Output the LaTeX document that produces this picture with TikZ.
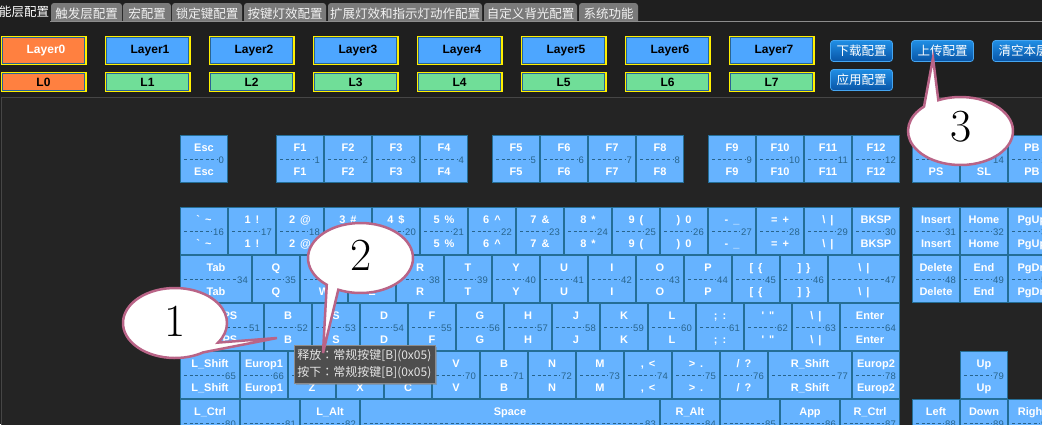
\documentclass[tikz,border=0pt]{standalone}
\usepackage{fontspec}
\newfontfamily\keyfont{Liberation Sans}
\newfontfamily\cjk{Noto Sans CJK SC}
\newfontfamily\cjktc{Noto Sans CJK TC}
\usetikzlibrary{calc,shadows}
\definecolor{bgtop}{RGB}{31,31,31}
\definecolor{bgpanel}{RGB}{36,36,36}
\definecolor{panelline}{RGB}{70,70,70}
\definecolor{keyfill}{RGB}{102,179,255}
\definecolor{keyline}{RGB}{36,110,150}
\definecolor{keynumc}{RGB}{40,100,140}
\definecolor{tabgray}{RGB}{122,122,122}
\definecolor{tabline}{RGB}{140,140,140}
\definecolor{layerblue}{RGB}{77,166,255}
\definecolor{layerorange}{RGB}{255,128,64}
\definecolor{layergreen}{RGB}{112,222,152}
\definecolor{layeryellow}{RGB}{255,240,0}
\definecolor{layerinner}{RGB}{40,100,150}
\definecolor{calloutline}{RGB}{185,100,135}
\definecolor{btntop}{RGB}{32,142,228}
\definecolor{btnbot}{RGB}{8,84,165}
\definecolor{btnline}{RGB}{70,165,240}
\definecolor{tipfill}{RGB}{78,78,78}
\definecolor{tipline}{RGB}{140,140,140}
\newcommand\kgap{\hspace{5pt}}
\newcommand\fwcolon{{\cjktc ：}}
\tikzset{
  keybox/.style={draw=keyline, fill=keyfill, line width=1.2pt, minimum height=46.8pt, inner sep=0pt, outer sep=0pt},
  keylab/.style={text=white, font=\keyfont\bfseries\fontsize{11}{11}\selectfont, inner sep=0pt},
  keynumst/.style={text=keynumc, font=\keyfont\fontsize{9.5}{9.5}\selectfont, inner sep=0pt},
  keydash/.style={draw=keynumc, line width=0.8pt, dash pattern=on 3pt off 2.4pt},
  tabbox/.style={fill=tabgray, rounded corners=3pt, text=white!95!black, font=\cjk\fontsize{12.5}{12.5}\selectfont, inner sep=0pt},
  layerbtn/.style={draw=layeryellow, line width=1.4pt, minimum width=84.6pt, inner sep=0pt,
     font=\keyfont\bfseries\fontsize{12}{12}\selectfont,
     path picture={\draw[layerinner, line width=0.8pt] ([xshift=1.1pt,yshift=-1.1pt]path picture bounding box.north west) rectangle ([xshift=-1.1pt,yshift=1.1pt]path picture bounding box.south east);}},
  cfgbtn/.style={draw=btnline, line width=0.8pt, rounded corners=3pt, top color=btntop, bottom color=btnbot, text=white,
     minimum width=62pt, minimum height=21pt, inner sep=0pt, font=\cjk\fontsize{12.5}{12.5}\selectfont},
  tipbox/.style={fill=tipfill, draw=tipline, line width=0.6pt, minimum width=141pt, minimum height=38pt, align=left,
     text=white!90!black, font=\cjk\fontsize{12}{17}\selectfont, inner sep=3pt,
     drop shadow={shadow xshift=2pt, shadow yshift=-2pt, opacity=0.5}},
  callout/.style={fill=white, draw=calloutline, line width=2.5pt},
  callnum/.style={font=\rmfamily\fontsize{46}{46}\selectfont, inner sep=0pt, text=black}
}
% x y width label number
\newcommand\kk[5]{%
  \node[keybox, minimum width=#3pt-1.2pt] (k#5) at ({#1+#3/2},{#2+24}) {};
  \node[keylab, anchor=base] (k#5a) at ([yshift=8pt]k#5.center) {#4};
  \node[keylab, anchor=base] (k#5b) at ([yshift=-16pt]k#5.center) {#4};
  \node[keynumst, anchor=base east] (k#5n) at ([xshift=-3.4pt,yshift=-4pt]k#5.east) {#5};
  \draw[keydash] ([xshift=3.5pt]k#5.west) -- ($(k#5n.west |- k#5.center)+(-0.8,0)$);
}
\begin{document}
\begin{tikzpicture}[x=1pt,y=-1pt]
\clip (0,0) rectangle (1042,424);
\fill[bgtop] (0,0) rectangle (1042,424);
% tabs
\node[text=white, font=\cjk\fontsize{12.5}{12.5}\selectfont, anchor=west, inner sep=0pt] (tab1) at (-1,12) {能层配置};
\node[tabbox, minimum width=71pt, minimum height=24pt] (tab2) at (86.5,15) {\raisebox{3pt}{触发层配置}};
\node[tabbox, minimum width=48pt, minimum height=24pt] (tab3) at (147,15) {\raisebox{3pt}{宏配置}};
\node[tabbox, minimum width=70pt, minimum height=24pt] (tab4) at (207,15) {\raisebox{3pt}{锁定键配置}};
\node[tabbox, minimum width=82pt, minimum height=24pt] (tab5) at (285,15) {\raisebox{3pt}{按键灯效配置}};
\node[tabbox, minimum width=154pt, minimum height=24pt] (tab6) at (405,15) {\raisebox{3pt}{扩展灯效和指示灯动作配置}};
\node[tabbox, minimum width=93pt, minimum height=24pt] (tab7) at (530.5,15) {\raisebox{3pt}{自定义背光配置}};
\node[tabbox, minimum width=59pt, minimum height=24pt] (tab8) at (608.5,15) {\raisebox{3pt}{系统功能}};
\fill[bgtop] (0,21.5) rectangle (1042,30);
\draw[tabline, line width=1pt] (50,21.5) -- (1042,21.5);
% layer buttons
\node[layerbtn, fill=layerorange, text=white, minimum height=27.6pt] (lay0) at (43.5,50.5) {\hspace{5pt}Layer0};
\node[layerbtn, fill=layerorange, text=black, minimum height=18.6pt] (l0) at (43.5,82) {L0};
\foreach \i in {1,...,7}{
  \node[layerbtn, fill=layerblue, text=black, minimum height=27.6pt] (lay\i) at ({43.5+104*\i},50.5) {\hspace{5pt}Layer\i};
  \node[layerbtn, fill=layergreen, text=black, minimum height=18.6pt] (l\i) at ({43.5+104*\i},82) {L\i};
}
% config buttons
\node[cfgbtn] (down) at (861.5,51) {下载配置};
\node[cfgbtn] (up) at (942.5,51) {上传配置};
\node[cfgbtn] (clear) at (1023.5,51) {清空本层};
\node[cfgbtn] (apply) at (861.5,80) {应用配置};
% panel
\draw[fill=bgpanel, draw=panelline, line width=1pt] (1.5,97.5) rectangle (1060,440);
% F row
\kk{180}{135}{48}{Esc}{0}
\kk{276}{135}{48}{F1}{1}
\kk{324}{135}{48}{F2}{2}
\kk{372}{135}{48}{F3}{3}
\kk{420}{135}{48}{F4}{4}
\kk{492}{135}{48}{F5}{5}
\kk{540}{135}{48}{F6}{6}
\kk{588}{135}{48}{F7}{7}
\kk{636}{135}{48}{F8}{8}
\kk{708}{135}{48}{F9}{9}
\kk{756}{135}{48}{F10}{10}
\kk{804}{135}{48}{F11}{11}
\kk{852}{135}{48}{F12}{12}
\kk{912}{135}{48}{PS}{13}
\kk{960}{135}{48}{SL}{14}
\kk{1008}{135}{48}{PB}{15}
% number row
\kk{180}{207}{48}{\textasciigrave\kgap\textasciitilde}{16}
\kk{228}{207}{48}{1\kgap!}{17}
\kk{276}{207}{48}{2\kgap@}{18}
\kk{324}{207}{48}{3\kgap\#}{19}
\kk{372}{207}{48}{4\kgap\$}{20}
\kk{420}{207}{48}{5\kgap\%}{21}
\kk{468}{207}{48}{6\kgap\textasciicircum}{22}
\kk{516}{207}{48}{7\kgap\&}{23}
\kk{564}{207}{48}{8\kgap*}{24}
\kk{612}{207}{48}{9\kgap(}{25}
\kk{660}{207}{48}{)\kgap0}{26}
\kk{708}{207}{48}{-\kgap\_}{27}
\kk{756}{207}{48}{=\kgap+}{28}
\kk{804}{207}{48}{\textbackslash\kgap|}{29}
\kk{852}{207}{48}{BKSP}{30}
\kk{912}{207}{48}{Insert}{31}
\kk{960}{207}{48}{Home}{32}
\kk{1008}{207}{48}{PgUp}{33}
% tab row
\kk{180}{255}{72}{Tab}{34}
\kk{252}{255}{48}{Q}{35}
\kk{300}{255}{48}{W}{36}
\kk{348}{255}{48}{E}{37}
\kk{396}{255}{48}{R}{38}
\kk{444}{255}{48}{T}{39}
\kk{492}{255}{48}{Y}{40}
\kk{540}{255}{48}{U}{41}
\kk{588}{255}{48}{I}{42}
\kk{636}{255}{48}{O}{43}
\kk{684}{255}{48}{P}{44}
\kk{732}{255}{48}{[\kgap\{}{45}
\kk{780}{255}{48}{]\kgap\}}{46}
\kk{828}{255}{72}{\textbackslash\kgap|}{47}
\kk{912}{255}{48}{Delete}{48}
\kk{960}{255}{48}{End}{49}
\kk{1008}{255}{48}{PgDn}{50}
% caps row
\kk{180}{303}{84}{CAPS}{51}
\kk{264}{303}{48}{B}{52}
\kk{312}{303}{48}{S}{53}
\kk{360}{303}{48}{D}{54}
\kk{408}{303}{48}{F}{55}
\kk{456}{303}{48}{G}{56}
\kk{504}{303}{48}{H}{57}
\kk{552}{303}{48}{J}{58}
\kk{600}{303}{48}{K}{59}
\kk{648}{303}{48}{L}{60}
\kk{696}{303}{48}{;\kgap:}{61}
\kk{744}{303}{48}{\textquotesingle\kgap\textquotedbl}{62}
\kk{792}{303}{48}{\textbackslash\kgap|}{63}
\kk{840}{303}{60}{Enter}{64}
% shift row
\kk{180}{351}{60}{L\_Shift}{65}
\kk{240}{351}{48}{Europ1}{66}
\kk{288}{351}{48}{Z}{67}
\kk{336}{351}{48}{X}{68}
\kk{384}{351}{48}{C}{69}
\kk{432}{351}{48}{V}{70}
\kk{480}{351}{48}{B}{71}
\kk{528}{351}{48}{N}{72}
\kk{576}{351}{48}{M}{73}
\kk{624}{351}{48}{,\kgap<}{74}
\kk{672}{351}{48}{>\kgap.}{75}
\kk{720}{351}{48}{/\kgap?}{76}
\kk{768}{351}{84}{R\_Shift}{77}
\kk{852}{351}{48}{Europ2}{78}
\kk{960}{351}{48}{Up}{79}
% ctrl row
\kk{180}{399}{60}{L\_Ctrl}{80}
\kk{240}{399}{60}{}{81}
\kk{300}{399}{60}{L\_Alt}{82}
\kk{360}{399}{300}{Space}{83}
\kk{660}{399}{60}{R\_Alt}{84}
\kk{720}{399}{60}{}{85}
\kk{780}{399}{60}{App}{86}
\kk{840}{399}{60}{R\_Ctrl}{87}
\kk{912}{399}{48}{Left}{88}
\kk{960}{399}{48}{Down}{89}
\kk{1008}{399}{48}{Right}{90}
% tooltip
\node[tipbox, anchor=north west] (tip) at (293.5,344.5) {释放\fwcolon 常规按键[B](0x05)\\按下\fwcolon 常规按键[B](0x05)};
% callouts
\coordinate (c1) at (175,323);
\coordinate (t1) at (277,338);
\draw[callout] (t1) -- ($(c1)+(57:52 and 35)$) arc[start angle=57, end angle=394, x radius=52, y radius=35] -- cycle;
\node[callnum] (n1) at (175,321) {1};
\coordinate (c2) at (360.5,258);
\coordinate (t2) at (323,353);
\draw[callout] (t2) -- ($(c2)+(130:52.5 and 35)$) arc[start angle=130, end angle=475, x radius=52.5, y radius=35] -- cycle;
\node[callnum] (n2) at (361,255) {2};
\coordinate (c3) at (960.5,131);
\coordinate (t3) at (933,58);
\draw[callout] (t3) -- ($(c3)+(245:52.5 and 34)$) arc[start angle=245, end angle=586, x radius=52.5, y radius=34] -- cycle;
\node[callnum] (n3) at (961.5,127) {3};
\end{tikzpicture}
\end{document}
